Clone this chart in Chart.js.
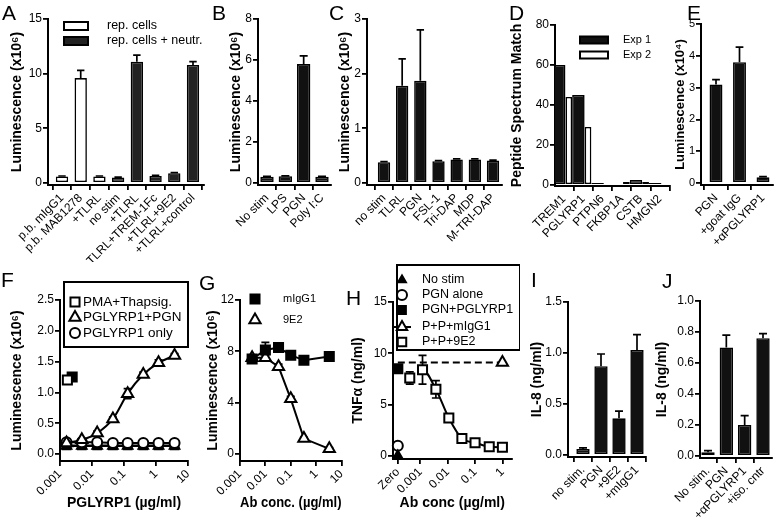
<!DOCTYPE html>
<html><head><meta charset="utf-8">
<script src="https://cdn.jsdelivr.net/npm/chart.js@4.4.0/dist/chart.umd.min.js"></script>
<style>
html,body{margin:0;padding:0;background:#fff;}
#wrap{position:relative;width:774px;height:529px;overflow:hidden;font-family:'Liberation Sans','DejaVu Sans',Arial,sans-serif;}
#wrap canvas{position:absolute;}
.lt{position:absolute;font-size:21px;line-height:21px;color:#000;}
</style></head><body><div id="wrap"></div>
<script>
// ================= DATA =================
// Panel A
const aCategories = ['p.b. mIgG1','p.b. MAB1278','+TLRL','no stim','+TLRL','+TLRL+TREM-1Fc','+TLRL+9E2','+TLRL+control'];
const aSeriesNames = ['rep. cells','rep. cells + neutr.'];
const aRepCells    = [0.6, 9.6, 0.6, null, null, null, null, null];
const aRepCellsErr = [0.04, 0.7, 0.04, null, null, null, null, null];
const aNeutr       = [null, null, null, 0.5, 11.1, 0.65, 0.9, 10.8];
const aNeutrErr    = [null, null, null, 0.03, 0.6, 0.04, 0.04, 0.3];
const aTicks = [0, 5, 10, 15];
// Panel B
const bCategories = ['No stim','LPS','PGN','Poly I:C'];
const bValues = [0.3, 0.33, 5.8, 0.3];
const bErr    = [0.02, 0.02, 0.4, 0.02];
const bTicks = [0, 2, 4, 6, 8];
// Panel C
const cCategories = ['no stim','TLRL','PGN','FSL-1','Tri-DAP','MDP','M-TRI-DAP'];
const cValues = [0.38, 1.78, 1.87, 0.4, 0.43, 0.43, 0.41];
const cErr    = [0.01, 0.49, 0.93, 0.01, 0.01, 0.01, 0.01];
const cTicks = [0, 1, 2, 3];
// Panel D
const dCategories = ['TREM1','PGLYRP1','PTPN6','FKBP1A','CSTB','HMGN2'];
const dSeriesNames = ['Exp 1','Exp 2'];
const dExp1 = [60, 45, 1, 0.5, 2.5, 1];
const dExp2 = [44, 29, 0, 1.5, 1.5, 0];
const dTicks = [0, 20, 40, 60, 80];
// Panel E
const eCategories = ['PGN','+goat IgG','+αPGLYRP1'];
const eValues = [3.1, 3.8, 0.18];
const eErr    = [0.15, 0.47, 0.02];
const eTicks = [0, 1, 2, 3, 4, 5];
// Panel F
const fSeriesNames = ['PMA+Thapsig.','PGLYRP1+PGN','PGLYRP1 only'];
const fDose     = [0.0016, 0.0048, 0.0145, 0.045, 0.13, 0.4, 1.2, 3.8];
const fPgn      = [0.18, 0.23, 0.34, 0.57, 0.98, 1.29, 1.48, 1.6];
const fPgnErr   = [0.01, 0.02, 0.03, 0.03, 0.08, 0.04, 0.05, 0.03];
const fOnly     = [0.19, 0.19, 0.19, 0.18, 0.18, 0.18, 0.18, 0.18];
const fCtrlTri  = [0.13, 0.13, 0.13, 0.13, 0.13, 0.13, 0.13, 0.13];
const fCtrlSq   = [0.14, 0.14, 0.14, 0.14, 0.14, 0.14, 0.14, 0.14];
const fPmaDose  = [0.0017];
const fPma      = [1.2];
const fPma2Dose = [0.0024];
const fPma2     = [1.25];
const fYTicks = [0, 0.5, 1, 1.5, 2, 2.5];
const fXTicks = [0.001, 0.01, 0.1, 1, 10];
// Panel G
const gSeriesNames = ['mIgG1','9E2'];
const gDose     = [0.003, 0.01, 0.033, 0.1, 0.33, 3.3];
const gMigg1    = [7.4, 8.1, 8.3, 7.7, 7.3, 7.6];
const gMigg1Err = [0.3, 0.6, 0.2, 0.2, 0.2, 0.2];
const g9e2      = [7.5, 7.5, 6.8, 4.3, 1.2, 0.4];
const g9e2Err   = [0.2, 0.2, 0.2, 0.2, 0.1, 0.1];
const gYTicks = [0, 4, 8, 12];
const gXTicks = [0.001, 0.01, 0.1, 1, 10];
// Panel H
const hSeriesNames = ['No stim','PGN alone','PGN+PGLYRP1','P+P+mIgG1','P+P+9E2'];
const hZero = 0.00015;               // where the "Zero" concentration sits on the log axis
const hNoStim = [0.05];
const hPgnAlone = [1.0];
const hPgnPglyrp1 = [8.5];
const hPgnPglyrp1Err = [0.3];
const hMiggDose = [hZero, 1];
const hMigg = [9.1, 9.1];
const h9e2Dose = [0.00041, 0.0012, 0.0037, 0.011, 0.033, 0.1, 0.33, 1];
const h9e2     = [7.6, 8.4, 6.5, 3.7, 1.7, 1.3, 0.9, 0.85];
const h9e2Err  = [0.6, 1.4, 0.85, 0.2, 0.15, 0.15, 0.1, 0.1];
const hYTicks = [0, 5, 10, 15];
const hXTicks = [hZero, 0.001, 0.01, 0.1, 1];
// Panel I
const iCategories = ['no stim.','PGN','+9E2','+mIgG1'];
const iValues = [0.06, 0.87, 0.36, 1.03];
const iErr    = [0.01, 0.12, 0.07, 0.15];
const iTicks = [0, 0.5, 1, 1.5];
// Panel J
const jCategories = ['No stim.','PGN','+αPGLYRP1','+iso. cntr'];
const jValues = [0.025, 0.70, 0.20, 0.76];
const jErr    = [0.01, 0.08, 0.06, 0.03];
const jTicks = [0, 0.2, 0.4, 0.6, 0.8, 1];

// ================= SETUP =================
const FONT = "'Liberation Sans', 'DejaVu Sans', Arial, sans-serif";
Chart.defaults.font.family = FONT;
Chart.defaults.font.size = 12;
Chart.defaults.color = '#000';
Chart.defaults.animation = false;
const wrap = document.getElementById('wrap');
const BLACK = '#111';

function frame(g) {
  const c = document.createElement('canvas');
  const W = g.R - g.L, H = g.B - g.T;
  c.width = W; c.height = H;
  c.style.left = g.L + 'px'; c.style.top = g.T + 'px';
  c.style.width = W + 'px'; c.style.height = H + 'px';
  wrap.appendChild(c);
  return c;
}
function axisStyle() {
  return {
    grid: {display: true, drawOnChartArea: false, drawTicks: true, tickLength: 5, color: '#000', lineWidth: 1.8},
    border: {display: true, color: '#000', width: 2}
  };
}
function yAxis(g, o) {
  const min = -(g.xAxisY - g.zeroY) * o.max / (g.zeroY - g.top);
  const tfs = o.titleSize || 14;
  return Object.assign(axisStyle(), {
    type: 'linear', position: 'left', min: min, max: o.max,
    afterBuildTicks: s => { s.ticks = o.ticks.map(v => ({value: v})); },
    afterFit: s => { s.width = g.ax - g.L; s.paddingTop = 0; s.paddingBottom = 0; s.paddingLeft = 0; s.paddingRight = 0; },
    ticks: {font: {size: o.tickSize || 12}, padding: 1, color: '#000', callback: v => o.fmt ? o.fmt(v) : String(v)},
    title: {display: true, text: o.title, color: '#000', font: {size: tfs, weight: 'bold'},
            padding: {top: Math.max(0, g.titleX - g.L - tfs * 0.6), bottom: 0}}
  });
}
function xBarAxis(g, labels) {
  const n = labels.length;
  const sp = (g.cN - g.c0) / (n - 1);
  return Object.assign(axisStyle(), {
    type: 'linear', position: 'bottom', offset: false,
    min: -(g.c0 - g.ax) / sp, max: (n - 1) + (g.right - g.cN) / sp,
    afterBuildTicks: s => { s.ticks = labels.map((_, i) => ({value: i})); },
    afterFit: s => { s.height = g.B - g.xAxisY; s.paddingLeft = 0; s.paddingRight = 0; s.paddingTop = 0; s.paddingBottom = 0; },
    ticks: {font: {size: 12}, padding: 1, color: '#000', minRotation: 45, maxRotation: 45, autoSkip: false,
            callback: v => labels[Math.round(v)]}
  });
}
function xLogAxis(g, o) {
  const ax = Object.assign(axisStyle(), {
    type: 'logarithmic', position: 'bottom', min: o.min, max: o.max,
    afterBuildTicks: s => { s.ticks = o.ticks.map(v => ({value: v})); },
    afterFit: s => { s.height = g.B - g.xAxisY; s.paddingLeft = 0; s.paddingRight = 0; s.paddingTop = 0; s.paddingBottom = 0; },
    ticks: {font: {size: 12}, padding: 1, color: '#000', minRotation: 45, maxRotation: 45, autoSkip: false,
            callback: v => o.fmt(v)},
    title: {display: true, text: o.title, color: '#000', font: {size: 14, weight: 'bold'},
            padding: {top: 0, bottom: Math.max(0, g.B - g.xTitleY - 8.4)}}
  });
  ax.grid.offset = false;
  return ax;
}

// error bars (upper only for bars, both sides for points)
const errorBars = {
  id: 'errorBars',
  beforeDatasetsDraw(chart) {
    const ctx = chart.ctx;
    chart.data.datasets.forEach((ds, di) => {
      const meta = chart.getDatasetMeta(di);
      const ys = chart.scales[meta.yAxisID];
      meta.data.forEach((el, i) => {
        const raw = ds.data[i];
        if (!raw || raw.err == null || !(raw.err > 0)) return;
        const x = el.x;
        const top = ys.getPixelForValue(raw.y + raw.err);
        const bot = ds.errBoth ? ys.getPixelForValue(raw.y - raw.err) : ys.getPixelForValue(raw.y);
        const cap = ds.capWidth != null ? ds.capWidth : (el.width ? el.width * 0.6 : 8);
        ctx.save();
        ctx.strokeStyle = '#000'; ctx.lineWidth = 1.7;
        ctx.beginPath();
        ctx.moveTo(x, bot); ctx.lineTo(x, top);
        ctx.moveTo(x - cap / 2, top); ctx.lineTo(x + cap / 2, top);
        if (ds.errBoth) { ctx.moveTo(x - cap / 2, bot); ctx.lineTo(x + cap / 2, bot); }
        ctx.stroke();
        ctx.restore();
      });
    });
  }
};
Chart.register(errorBars);

function legendPlugin(g, spec) {
  return {
    id: 'panelLegend',
    afterDraw(chart) {
      const ctx = chart.ctx;
      ctx.save();
      if (spec.box) {
        const [x0, y0, x1, y1] = spec.box;
        ctx.fillStyle = '#fff';
        ctx.fillRect(x0 - g.L, y0 - g.T, x1 - x0, y1 - y0);
        ctx.lineWidth = 2; ctx.strokeStyle = '#000';
        ctx.strokeRect(x0 - g.L, y0 - g.T, x1 - x0, y1 - y0);
      }
      spec.items.forEach((it, k) => {
        const y = spec.ys[k] - g.T, mx = spec.mx - g.L;
        ctx.strokeStyle = '#000'; ctx.lineWidth = it.bw || 2;
        if (it.kind === 'rect') {
          ctx.fillStyle = it.fill;
          ctx.fillRect(mx - it.w / 2, y - it.h / 2, it.w, it.h);
          ctx.strokeRect(mx - it.w / 2, y - it.h / 2, it.w, it.h);
        } else {
          if (it.line) { ctx.beginPath(); ctx.moveTo(mx - it.line, y); ctx.lineTo(mx + it.line, y); ctx.stroke(); }
          ctx.fillStyle = it.fill;
          Chart.helpers.drawPoint(ctx, {pointStyle: it.style, radius: it.r, borderWidth: 2, rotation: 0}, mx, y);
        }
        ctx.fillStyle = '#000';
        ctx.font = spec.fs + 'px ' + FONT;
        ctx.textBaseline = 'middle'; ctx.textAlign = 'left';
        ctx.fillText(it.label, spec.tx - g.L, y);
      });
      ctx.restore();
    }
  };
}

function bars(values, errs) {
  const out = [];
  values.forEach((v, i) => { if (v != null) out.push({x: i, y: v, err: errs ? errs[i] : null}); });
  return out;
}
function pts(xs, ys, errs) {
  return xs.map((x, i) => ({x: x, y: ys[i], err: errs ? errs[i] : null}));
}
function baseOptions(g) {
  return {
    responsive: false, animation: false, events: [],
    layout: {padding: {top: g.top - g.T, right: g.R - g.right, left: 0, bottom: 0}},
    plugins: {legend: {display: false}, tooltip: {enabled: false}}
  };
}
function barChart(g, cfg) {
  const c = frame(g);
  const opts = baseOptions(g);
  opts.scales = {x: xBarAxis(g, cfg.categories), y: yAxis(g, cfg.y)};
  new Chart(c, {type: 'bar', data: {datasets: cfg.datasets}, options: opts,
    plugins: cfg.legend ? [legendPlugin(g, cfg.legend)] : []});
}
function barDs(label, data, fill, pct, extra) {
  return Object.assign({label: label, data: data, backgroundColor: fill, borderColor: '#000', borderWidth: 1.6,
    borderSkipped: false, categoryPercentage: 1, barPercentage: pct}, extra || {});
}
function scatterChart(g, cfg) {
  const c = frame(g);
  const opts = baseOptions(g);
  opts.scales = {x: xLogAxis(g, cfg.x), y: yAxis(g, cfg.y)};
  new Chart(c, {type: 'scatter', data: {datasets: cfg.datasets}, options: opts,
    plugins: cfg.legend ? [legendPlugin(g, cfg.legend)] : []});
}
function ptDs(label, data, shape, r, fill, extra) {
  return Object.assign({label: label, data: data, pointStyle: shape, pointRadius: r, pointBackgroundColor: fill,
    pointBorderColor: '#000', pointBorderWidth: 2, borderColor: '#000', borderWidth: 2, backgroundColor: fill,
    showLine: false, tension: 0, clip: false, errBoth: true, capWidth: 8}, extra || {});
}

// ================= GEOMETRY (page pixels) =================
const GA = {L: 0,   T: 0, R: 212, B: 262, ax: 48,  top: 19, zeroY: 183, xAxisY: 185, right: 204, c0: 62,  cN: 193, titleX: 17};
const GB = {L: 212, T: 0, R: 335, B: 262, ax: 258, top: 19, zeroY: 183, xAxisY: 185, right: 331, c0: 267, cN: 322, titleX: 236};
const GC = {L: 335, T: 0, R: 505, B: 262, ax: 367, top: 19, zeroY: 183, xAxisY: 185, right: 502, c0: 384, cN: 493, titleX: 345};
const GD = {L: 505, T: 0, R: 672, B: 262, ax: 555, top: 25, zeroY: 185, xAxisY: 186, right: 670, c0: 564, cN: 660, titleX: 517};
const GE = {L: 672, T: 0, R: 774, B: 262, ax: 701, top: 24, zeroY: 183, xAxisY: 185, right: 773, c0: 716, cN: 763, titleX: 680};
const GF = {L: 0,   T: 262, R: 200, B: 529, ax: 60,  top: 300, zeroY: 454, xAxisY: 461, right: 188, titleX: 17,  xTitleY: 503};
const GG = {L: 200, T: 262, R: 350, B: 529, ax: 240, top: 300, zeroY: 454, xAxisY: 461, right: 345, titleX: 213, xTitleY: 503};
const GH = {L: 340, T: 262, R: 520, B: 529, ax: 393, top: 302, zeroY: 456, xAxisY: 459, right: 513, titleX: 358, xTitleY: 503};
const GI = {L: 520, T: 262, R: 650, B: 529, ax: 568, top: 302, zeroY: 455, xAxisY: 457, right: 646, c0: 583, cN: 637, titleX: 537};
const GJ = {L: 650, T: 262, R: 774, B: 529, ax: 700, top: 301, zeroY: 456, xAxisY: 458, right: 772, c0: 708, cN: 763, titleX: 662};

const LUM6 = 'Luminescence (x10⁶)';
const fix1 = v => v.toFixed(1);

// ---- A ----
barChart(GA, {
  categories: aCategories,
  y: {max: 15, ticks: aTicks, title: LUM6},
  datasets: [
    barDs(aSeriesNames[0], bars(aRepCells, aRepCellsErr), '#fff', 0.66, {grouped: false}),
    barDs(aSeriesNames[1], bars(aNeutr, aNeutrErr), '#222', 0.66, {grouped: false})
  ],
  legend: {mx: 76, tx: 107, ys: [26, 41], fs: 12.5, items: [
    {label: aSeriesNames[0], kind: 'rect', w: 24, h: 8, fill: '#fff'},
    {label: aSeriesNames[1], kind: 'rect', w: 24, h: 8, fill: '#222'}]}
});
// ---- B ----
barChart(GB, {categories: bCategories, y: {max: 8, ticks: bTicks, title: LUM6},
  datasets: [barDs('B', bars(bValues, bErr), BLACK, 0.73)]});
// ---- C ----
barChart(GC, {categories: cCategories, y: {max: 3, ticks: cTicks, title: LUM6},
  datasets: [barDs('C', bars(cValues, cErr), BLACK, 0.68)]});
// ---- D ----
barChart(GD, {categories: dCategories, y: {max: 80, ticks: dTicks, title: 'Peptide Spectrum Match'},
  datasets: [
    barDs(dSeriesNames[0], bars(dExp1), BLACK, 1.3),
    barDs(dSeriesNames[1], bars(dExp2), '#fff', 0.7)
  ],
  legend: {mx: 594, tx: 623, ys: [40, 55], fs: 11, items: [
    {label: dSeriesNames[0], kind: 'rect', w: 28, h: 7, fill: BLACK},
    {label: dSeriesNames[1], kind: 'rect', w: 28, h: 7, fill: '#fff'}]}
});
// ---- E ----
barChart(GE, {categories: eCategories, y: {max: 5, ticks: eTicks, title: 'Luminescence (x10⁴)', titleSize: 13, tickSize: 11},
  datasets: [barDs('E', bars(eValues, eErr), BLACK, 0.55)]});

// ---- F ----
scatterChart(GF, {
  x: {min: 0.001, max: 10, ticks: fXTicks, fmt: v => String(v), title: 'PGLYRP1 (µg/ml)'},
  y: {max: 2.5, ticks: fYTicks, fmt: fix1, title: LUM6},
  datasets: [
    ptDs(fSeriesNames[0], pts(fPmaDose, fPma), 'rect', 6.4, '#fff'),
    ptDs('PMA+Thapsig. (filled)', pts(fPma2Dose, fPma2), 'rect', 6.4, '#000'),
    ptDs(fSeriesNames[1], pts(fDose, fPgn, fPgnErr), 'triangle', 6.5, '#fff', {showLine: true, cubicInterpolationMode: 'monotone'}),
    ptDs(fSeriesNames[2], pts(fDose, fOnly), 'circle', 5, '#fff', {showLine: true}),
    ptDs('control (filled triangles)', pts(fDose, fCtrlTri), 'triangle', 5.5, '#000', {showLine: true}),
    ptDs('control (filled squares)', pts(fDose, fCtrlSq), 'rect', 5.5, '#000', {showLine: true})
  ],
  legend: {box: [64, 282, 188, 347], mx: 75, tx: 83, ys: [302, 317.5, 333], fs: 13.5, items: [
    {label: fSeriesNames[0], kind: 'point', style: 'rect', r: 6.4, fill: '#fff'},
    {label: fSeriesNames[1], kind: 'point', style: 'triangle', r: 6.5, fill: '#fff'},
    {label: fSeriesNames[2], kind: 'point', style: 'circle', r: 5, fill: '#fff'}]}
});
// ---- G ----
scatterChart(GG, {
  x: {min: 0.001, max: 10, ticks: gXTicks, fmt: v => String(v), title: 'Ab conc. (µg/ml)'},
  y: {max: 12, ticks: gYTicks, title: LUM6},
  datasets: [
    ptDs(gSeriesNames[0], pts(gDose, gMigg1, gMigg1Err), 'rect', 6.4, '#000', {showLine: true}),
    ptDs(gSeriesNames[1], pts(gDose, g9e2, g9e2Err), 'triangle', 6.5, '#fff', {showLine: true})
  ],
  legend: {mx: 255, tx: 283, ys: [299, 320], fs: 11, items: [
    {label: gSeriesNames[0], kind: 'point', style: 'rect', r: 6.4, fill: '#000'},
    {label: gSeriesNames[1], kind: 'point', style: 'triangle', r: 6.5, fill: '#fff'}]}
});
// ---- H ----
scatterChart(GH, {
  x: {min: 0.0001, max: 2.15, ticks: hXTicks, fmt: v => (v === hZero ? 'Zero' : String(v)), title: 'Ab conc (µg/ml)'},
  y: {max: 15, ticks: hYTicks, title: 'TNFα (ng/ml)'},
  datasets: [
    ptDs(hSeriesNames[0], pts([hZero], hNoStim), 'triangle', 5, '#000'),
    ptDs(hSeriesNames[1], pts([hZero], hPgnAlone), 'circle', 5, '#fff'),
    ptDs(hSeriesNames[2], pts([hZero], hPgnPglyrp1, hPgnPglyrp1Err), 'rect', 6.4, '#000'),
    ptDs(hSeriesNames[3], pts(hMiggDose, hMigg), 'triangle', [0, 6.5], '#fff', {showLine: true, borderDash: [7, 4]}),
    ptDs(hSeriesNames[4], pts(h9e2Dose, h9e2, h9e2Err), 'rect', 6.4, '#fff', {showLine: true, cubicInterpolationMode: 'monotone',
      segment: {borderColor: ctx => (ctx.p0DataIndex === 0 ? 'rgba(0,0,0,0)' : '#000')}})
  ],
  legend: {box: [397, 265, 520, 350], mx: 402, tx: 422, ys: [280, 295, 310, 327, 342], fs: 12.5, items: [
    {label: hSeriesNames[0], kind: 'point', style: 'triangle', r: 4.5, fill: '#000'},
    {label: hSeriesNames[1], kind: 'point', style: 'circle', r: 5, fill: '#fff'},
    {label: hSeriesNames[2], kind: 'point', style: 'rect', r: 5.5, fill: '#000'},
    {label: hSeriesNames[3], kind: 'point', style: 'triangle', r: 6, fill: '#fff', line: 9},
    {label: hSeriesNames[4], kind: 'point', style: 'rect', r: 6, fill: '#fff'}]}
});
// ---- I ----
barChart(GI, {categories: iCategories, y: {max: 1.5, ticks: iTicks, fmt: fix1, title: 'IL-8 (ng/ml)'},
  datasets: [barDs('I', bars(iValues, iErr), BLACK, 0.74)]});
// ---- J ----
barChart(GJ, {categories: jCategories, y: {max: 1, ticks: jTicks, fmt: fix1, title: 'IL-8 (ng/ml)'},
  datasets: [barDs('J', bars(jValues, jErr), BLACK, 0.73)]});

// ---- panel letters ----
const panelLetters = [['A', 2, 2], ['B', 212, 2], ['C', 329, 2], ['D', 509, 2], ['E', 687, 2],
                      ['F', 1, 269], ['G', 199, 272], ['H', 346, 287], ['I', 531, 269], ['J', 662, 270]];
panelLetters.forEach(([t, x, y]) => {
  const d = document.createElement('div');
  d.className = 'lt'; d.textContent = t;
  d.style.left = x + 'px'; d.style.top = y + 'px';
  wrap.appendChild(d);
});
</script></body></html>
